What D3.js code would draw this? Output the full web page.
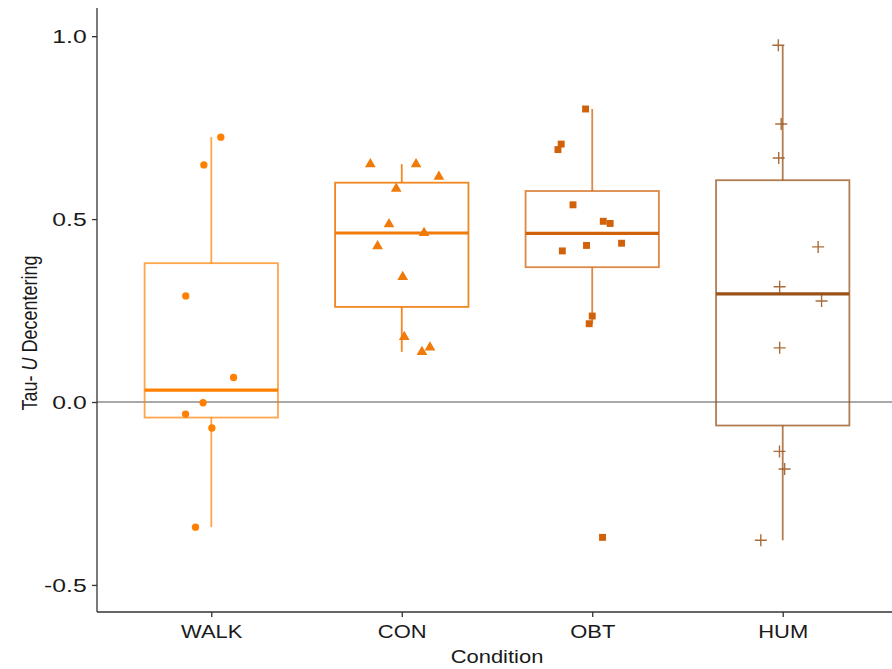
<!DOCTYPE html>
<html>
<head>
<meta charset="utf-8">
<script src="https://cdn.jsdelivr.net/npm/d3@7"></script>
<style>
  body { margin: 0; background: #fff; }
  text { font-family: "Liberation Sans", Arial, sans-serif; }
</style>
</head>
<body>
<svg id="chart" width="892" height="669"></svg>
<script>
// categories and values
var conditions = ["WALK", "CON", "OBT", "HUM"];
var walkValues = [0.724, 0.648, 0.290, 0.067, -0.002, -0.033, -0.071, -0.342];
var conValues = [0.650, 0.650, 0.616, 0.583, 0.486, 0.462, 0.426, 0.342, 0.178, 0.149, 0.137];
var obtValues = [0.801, 0.705, 0.690, 0.539, 0.494, 0.488, 0.434, 0.428, 0.413, 0.235, 0.214, -0.370];
var humValues = [0.975, 0.760, 0.667, 0.424, 0.315, 0.276, 0.148, -0.135, -0.183, -0.378];
// horizontal jitter of each point, in category widths
var walkJitter = [0.050, -0.039, -0.134, 0.117, -0.043, -0.135, 0.003, -0.083];
var conJitter = [-0.165, 0.075, 0.195, -0.029, -0.067, 0.117, -0.127, 0.005, 0.013, 0.148, 0.106];
var obtJitter = [-0.035, -0.163, -0.180, -0.101, 0.058, 0.094, 0.154, -0.030, -0.157, 0, -0.016, 0.054];
var humJitter = [-0.023, -0.008, -0.021, 0.186, -0.016, 0.204, -0.016, -0.017, 0.010, -0.115];
var yTicks = [-0.5, 0.0, 0.5, 1.0];

var values = {WALK: walkValues, CON: conValues, OBT: obtValues, HUM: humValues};
var jitter = {WALK: walkJitter, CON: conJitter, OBT: obtJitter, HUM: humJitter};
var colors = {WALK: "#ff8000", CON: "#f07a0a", OBT: "#d2620a", HUM: "#9a5218"};
var boxOpacity = {WALK: 0.7, CON: 0.9, OBT: 0.75, HUM: 0.75};
var shapes = {WALK: d3.symbolCircle, CON: d3.symbolTriangle, OBT: d3.symbolSquare};
var sizes = {WALK: 42, CON: 50, OBT: 48};

var margin = {top: 8, right: 0, bottom: 57, left: 97};
var width = 892, height = 669;
var svg = d3.select("#chart");
// text in the picture is a bit wider than tall
var stretch = "scale(1.22,1)";

var x = d3.scalePoint()
    .domain(conditions)
    .range([margin.left, margin.left + 800])
    .padding(0.6);
var step = x.step();
var y = d3.scaleLinear()
    .domain([-0.574, 1.077])
    .range([height - margin.bottom, margin.top]);

// box statistics like ggplot (type 7 quantiles, 1.5 IQR whiskers)
function boxStats(vals) {
    var s = vals.slice().sort(d3.ascending);
    var q1 = d3.quantile(s, 0.25), med = d3.quantile(s, 0.5), q3 = d3.quantile(s, 0.75);
    var iqr = q3 - q1;
    var lo = d3.min(s.filter(v => v >= q1 - 1.5 * iqr));
    var hi = d3.max(s.filter(v => v <= q3 + 1.5 * iqr));
    return {q1: q1, med: med, q3: q3, lo: lo, hi: hi};
}

// zero reference line
svg.append("line")
    .attr("x1", margin.left).attr("x2", width)
    .attr("y1", y(0)).attr("y2", y(0))
    .attr("stroke", "#8c8c8c").attr("stroke-width", 1.6);

var bw = step * 0.7;
conditions.forEach(function(c) {
    var st = boxStats(values[c]);
    var cx = x(c);
    var g = svg.append("g")
        .attr("stroke", colors[c])
        .attr("stroke-opacity", boxOpacity[c])
        .attr("fill", "none");
    g.append("line")
        .attr("x1", cx).attr("x2", cx)
        .attr("y1", y(st.hi)).attr("y2", y(st.q3))
        .attr("stroke-width", 1.8);
    g.append("line")
        .attr("x1", cx).attr("x2", cx)
        .attr("y1", y(st.q1)).attr("y2", y(st.lo))
        .attr("stroke-width", 1.8);
    g.append("rect")
        .attr("x", cx - bw / 2).attr("width", bw)
        .attr("y", y(st.q3)).attr("height", y(st.q1) - y(st.q3))
        .attr("stroke-width", 1.8);
    g.append("line")
        .attr("x1", cx - bw / 2).attr("x2", cx + bw / 2)
        .attr("y1", y(st.med)).attr("y2", y(st.med))
        .attr("stroke-width", 3.2)
        .attr("stroke-opacity", 1);

    var pts = svg.append("g").selectAll("g")
        .data(values[c])
        .enter()
        .append("g")
        .attr("transform", (d, i) => "translate(" + (cx + jitter[c][i] * step) + "," + y(d) + ")");
    if (c == "HUM") {
        pts.append("path")
            .attr("d", "M-6,0H6M0,-6V6")
            .attr("stroke", colors[c])
            .attr("stroke-opacity", 0.85)
            .attr("stroke-width", 1.4);
    } else {
        pts.append("path")
            .attr("d", d3.symbol().type(shapes[c]).size(sizes[c])())
            .attr("fill", colors[c]);
    }
});

// y axis
var yAxis = d3.axisLeft(y)
    .tickValues(yTicks)
    .tickFormat(d => d3.format(".1f")(d).replace("\u2212", "-"))
    .tickSize(5).tickPadding(3);
var ya = svg.append("g")
    .attr("transform", "translate(" + margin.left + ",0)")
    .call(yAxis);
ya.select(".domain").attr("d", "M0," + margin.top + "V" + (height - margin.bottom));
// x axis
var xAxis = d3.axisBottom(x).tickSize(5).tickPadding(8);
var xa = svg.append("g")
    .attr("transform", "translate(0," + (height - margin.bottom) + ")")
    .call(xAxis);
xa.select(".domain").attr("d", "M" + margin.left + ",0H" + width);
[ya, xa].forEach(function(a) {
    a.select(".domain").attr("stroke", "#333").attr("stroke-width", 1.3);
    a.selectAll(".tick line").attr("stroke", "#333").attr("stroke-width", 1.3);
    a.selectAll(".tick text")
        .attr("fill", "#1a1a1a")
        .attr("font-size", 18)
        .attr("font-family", "Liberation Sans, Arial, sans-serif");
});
ya.selectAll(".tick text").attr("font-size", 19).attr("transform", "scale(1.3,1)");
xa.selectAll(".tick text").attr("transform", stretch);

// axis titles
svg.append("text")
    .attr("transform", "translate(" + (x("CON") + step / 2) + ",663) " + stretch)
    .attr("text-anchor", "middle")
    .attr("font-size", 18)
    .attr("fill", "#1a1a1a")
    .text("Condition");
var yt = svg.append("text")
    .attr("transform", "translate(37,333) " + stretch + " rotate(-90)")
    .attr("text-anchor", "middle")
    .attr("font-size", 18)
    .attr("fill", "#1a1a1a");
yt.append("tspan").text("Tau- ");
yt.append("tspan").attr("font-style", "italic").text("U");
yt.append("tspan").text(" Decentering");
</script>
</body>
</html>
